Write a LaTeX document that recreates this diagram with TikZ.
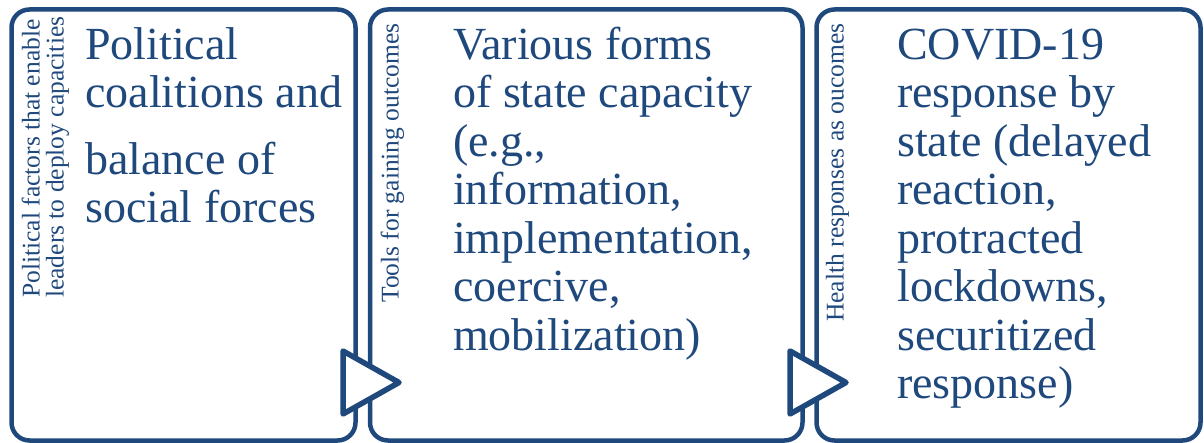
\documentclass[tikz,border=0pt]{standalone}
\usepackage{fontspec}
\setmainfont{Liberation Serif}
\definecolor{navy}{RGB}{31,73,125}
\newcommand\firstlinestrut{\rule{0pt}{0.8em}}
\begin{document}
\begin{tikzpicture}[x=1pt,y=-1pt,
  panel/.style={draw=navy, line width=4.5pt, rounded corners=18pt, fill=white},
  pointer/.style={draw=navy, line width=5.5pt, line join=round, fill=white},
  maintext/.style={anchor=north west, inner sep=0pt, align=left, text=navy,
    font=\fontsize{46}{48.5}\selectfont},
  sidelabel/.style={anchor=north west, inner sep=0pt, align=left, rotate=90, text=navy,
    font=\fontsize{25.5}{24}\selectfont}]
\fill[white] (0,0) rectangle (1204,443);
\useasboundingbox (0,0) rectangle (1204,443);
% panels
\draw[panel] (11.5,9.5) rectangle (355.5,440.5);
\draw[panel] (370,9.5) rectangle (802.5,440.5);
\draw[panel] (816.5,9.5) rectangle (1200.5,440.5);
% pointers
\coordinate (p1a) at (343,351);
\coordinate (p1b) at (343,414);
\coordinate (p1c) at (399,382.5);
\coordinate (p2a) at (790,351);
\coordinate (p2b) at (790,414);
\coordinate (p2c) at (846,382.5);
\draw[pointer] (p1a) -- (p1c) -- (p1b) -- cycle;
\draw[pointer] (p2a) -- (p2c) -- (p2b) -- cycle;
% side labels
\node[sidelabel] (s1) at (19,298) {\firstlinestrut Political factors that enable\\leaders to deploy capacities};
\node[sidelabel] (s2) at (378,303) {\firstlinestrut Tools for gaining outcomes};
\node[sidelabel] (s3) at (823,322) {\firstlinestrut Health responses as oucomes};
% main texts
\node[maintext] (t1) at (85,22.2) {\firstlinestrut Political\\coalitions and\\[18pt]balance of\\social forces};
\node[maintext] (t2) at (453,22.2) {\firstlinestrut Various forms\\of state capacity\\(e.g.,\\information,\\implementation,\\coercive,\\mobilization)};
\node[maintext] (t3) at (897,22.2) {\firstlinestrut COVID-19\\response by\\state (delayed\\reaction,\\protracted\\lockdowns,\\securitized\\response)};
\end{tikzpicture}
\end{document}
